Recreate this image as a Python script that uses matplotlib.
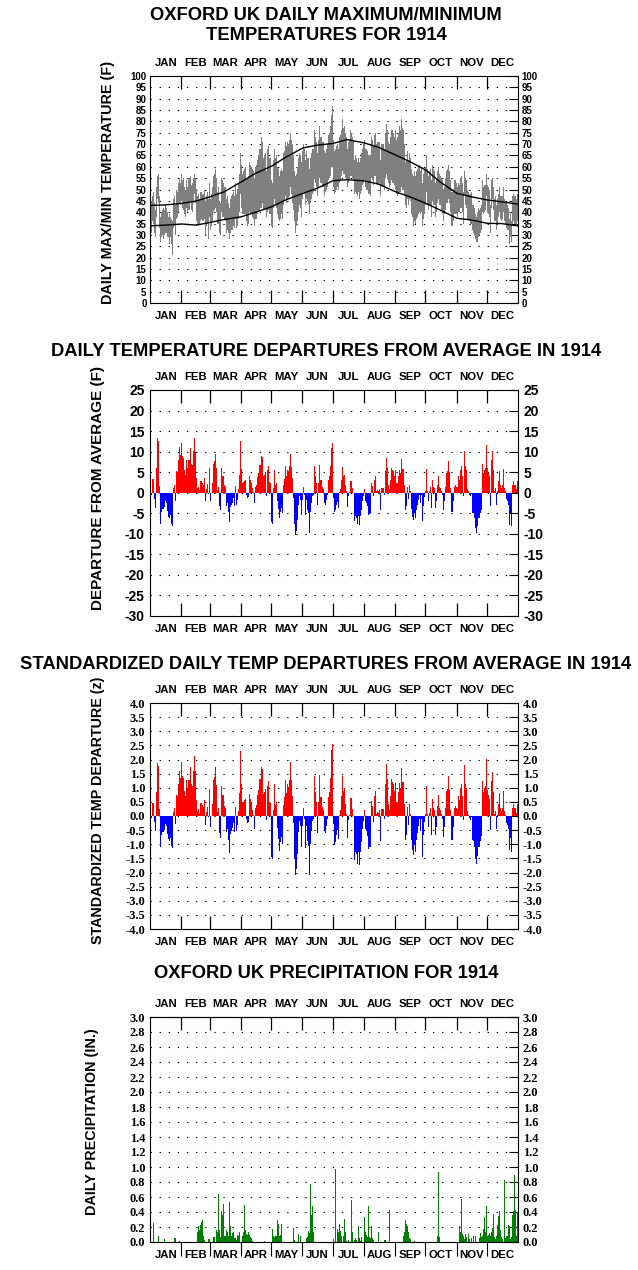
import numpy as np
import matplotlib
matplotlib.use('Agg')
import matplotlib.pyplot as plt
from matplotlib.font_manager import FontProperties

plt.rcParams['font.family'] = ['Liberation Sans', 'DejaVu Sans']
plt.rcParams['font.weight'] = 'bold'

# month layout
months = ['JAN', 'FEB', 'MAR', 'APR', 'MAY', 'JUN', 'JUL', 'AUG', 'SEP', 'OCT', 'NOV', 'DEC']
month_days = [31, 28, 31, 30, 31, 30, 31, 31, 30, 31, 30, 31]

# daily max / min temperature (F), one line per month
tmax = [38,45,47,49,44,41,51,56,57,47,38,40,41,42,41,43,42,40,38,39,38,37,36,46,47,43,50,49,53,55,53,
        57,54,55,51,50,54,51,55,56,52,53,55,57,55,50,47,48,46,49,49,48,48,50,45,47,49,46,53,
        46,48,51,56,57,59,55,49,51,45,44,55,54,53,51,51,46,47,44,42,46,47,48,49,47,53,48,50,53,57,66,
        61,57,58,59,60,55,55,56,62,61,60,59,58,55,60,61,63,65,68,68,73,71,64,65,66,58,68,69,64,64,
        54,53,63,68,64,65,60,59,56,58,59,58,66,67,71,69,71,70,72,75,72,70,65,58,56,57,60,64,66,65,62,
        67,70,68,63,67,64,64,59,64,66,68,68,76,73,71,66,72,78,73,71,71,67,66,68,70,74,75,78,83,87,
        72,67,68,69,70,68,73,74,76,81,77,78,75,73,68,71,72,76,75,73,72,63,65,64,62,64,62,64,66,68,70,
        72,68,68,67,65,65,65,73,72,69,74,75,70,71,71,71,63,70,70,70,68,75,79,76,71,70,73,76,76,75,73,
        76,72,73,75,78,76,81,77,76,70,62,63,67,63,66,64,59,57,56,58,56,58,59,60,61,58,60,53,57,59,
        60,65,59,56,58,59,54,61,59,58,53,54,58,60,57,56,55,54,50,51,55,58,59,61,58,54,49,50,54,54,53,
        51,53,52,55,56,53,49,58,55,54,50,49,48,48,49,43,43,42,39,38,40,42,41,42,43,54,51,52,52,57,
        52,51,50,43,54,55,51,46,47,43,46,48,51,47,47,47,51,46,45,44,43,42,37,40,36,47,48,47,47,46,48]
tmin = [24,31,36,35,31,29,38,46,44,33,27,29,30,28,30,31,31,29,29,26,29,26,21,33,34,30,37,38,40,44,43,
        45,42,41,39,38,42,40,41,45,41,40,44,48,44,36,35,34,35,36,37,36,36,37,30,34,35,28,38,
        32,34,36,40,41,42,40,35,35,31,30,40,38,38,37,36,31,32,31,28,31,32,32,34,33,37,33,34,37,40,48,
        42,39,39,39,39,36,34,35,40,39,39,38,37,34,37,37,39,40,41,42,42,44,41,41,41,38,40,41,39,39,
        34,33,42,46,43,42,39,37,36,37,39,37,43,45,47,44,46,46,47,51,48,44,41,36,31,34,36,40,43,42,38,
        46,49,48,43,46,45,43,39,44,46,48,49,55,53,51,47,51,55,53,51,51,47,49,50,51,54,55,56,60,60,
        51,48,49,50,51,50,53,54,56,58,57,57,55,54,51,53,54,56,56,55,54,48,49,48,47,49,46,48,50,52,53,
        54,51,50,50,48,48,47,55,54,52,56,56,53,52,52,53,47,52,51,51,50,55,57,55,53,51,52,54,53,53,52,
        50,48,47,48,49,49,51,50,50,47,43,42,46,43,46,45,39,38,34,36,35,37,38,39,40,39,40,34,37,39,
        43,49,43,41,43,43,38,45,43,43,38,40,44,46,43,43,41,41,36,39,41,44,44,46,44,40,34,36,39,39,39,
        38,40,40,42,42,40,35,47,43,42,37,37,36,35,35,32,31,30,28,27,27,29,30,31,32,40,39,40,41,47,
        40,39,38,31,42,46,41,36,36,32,35,38,40,37,36,37,40,36,35,33,32,32,26,29,27,35,36,35,35,34,36]

# normal max/min curves (day of year, F)
normal_days = [1, 15, 32, 46, 60, 74, 91, 105, 121, 135, 152, 166, 182, 196, 213, 227, 244, 258, 274, 288, 305, 319, 335, 349, 365]
normal_max = [43.0, 43.2, 43.9, 44.9, 46.8, 49.0, 53.4, 57.1, 60.3, 64.2, 68.3, 69.5, 70.3, 72.0, 70.5, 68.6,
              65.2, 62.3, 58.6, 53.4, 48.3, 46.8, 45.4, 44.6, 43.6]
normal_min = [34.0, 34.3, 34.8, 34.3, 35.5, 36.8, 38.0, 40.0, 42.4, 45.4, 48.3, 50.5, 53.9, 54.3, 53.8, 52.4,
              49.0, 46.8, 43.9, 41.0, 37.3, 36.6, 35.1, 35.0, 34.0]

# daily departure from average (F)
dep = [-8.2,-0.5,3.3,3.3,-1.5,-3.7,6.0,13.2,12.5,1.7,-7.6,-4.8,-4.0,-4.0,-3.5,-2.0,-2.5,-4.5,-5.8,-6.2,-5.5,-7.5,-8.0,1.1,2.0,-2.0,5.2,5.0,8.0,11.1,9.3,
       12.0,8.9,8.5,5.6,4.4,8.0,6.0,8.0,10.9,7.1,6.8,10.1,13.4,10.0,3.6,1.1,1.5,0.6,2.8,2.9,2.4,2.0,3.6,-1.9,0.9,2.1,-0.3,6.0,
       -2.1,0.0,2.4,7.0,7.6,9.5,6.0,0.7,1.5,-3.3,-4.3,5.9,4.1,4.0,2.0,1.5,-3.2,-2.5,-4.6,-7.2,-3.5,-2.9,-2.4,-1.3,-3.2,1.7,-2.9,-1.7,1.0,4.4,12.7,
       5.8,2.4,2.5,2.9,3.2,-0.5,-1.3,-1.1,4.1,3.2,2.4,1.1,0.2,-2.4,1.5,2.0,3.8,4.8,6.8,6.8,9.0,8.7,4.1,4.4,5.0,-0.7,5.6,6.4,2.5,2.4,
       -7.2,-7.6,1.1,5.6,2.0,2.4,-2.1,-4.0,-6.2,-4.6,-3.7,-5.0,2.0,3.4,6.4,4.0,5.6,5.2,6.4,9.5,6.3,3.6,-1.3,-7.6,-10.4,-9.4,-6.7,-2.9,-0.9,-1.7,-5.4,
       -1.7,1.4,-0.5,-5.4,-1.7,-4.1,-5.0,-9.8,-4.6,-2.5,-0.9,-0.5,6.6,4.0,2.4,-2.9,2.4,6.8,3.2,1.5,1.0,-2.5,-2.9,-1.7,-0.5,3.2,4.0,6.4,10.9,12.0,
       -1.3,-4.6,-4.1,-3.0,-2.2,-3.6,0.2,0.9,3.2,6.3,4.0,4.4,1.9,0.3,-3.5,-0.7,0.1,2.8,2.8,1.1,0.0,-7.0,-5.7,-6.1,-7.6,-5.7,-7.8,-5.7,-4.1,-2.1,-0.8,
       0.9,-2.1,-2.5,-3.3,-5.4,-5.1,-5.0,2.4,1.7,-0.9,3.2,4.1,0.3,0.6,0.5,0.9,-4.1,1.1,1.1,1.1,-0.5,5.2,8.5,6.0,2.0,0.9,3.2,6.0,5.6,5.2,4.1,
       5.6,2.4,2.4,4.1,5.6,4.8,8.2,5.8,5.8,2.0,-4.1,-3.2,1.5,-1.5,2.0,0.3,-4.0,-5.8,-6.6,-4.9,-6.1,-4.1,-2.9,-1.7,-0.5,-2.5,-0.5,-7.0,-3.3,-1.0,
       0.3,5.8,0.3,-2.1,0.5,1.5,-3.7,3.2,1.5,1.1,-3.7,-2.1,2.0,4.0,1.5,1.1,0.3,-0.5,-4.1,-2.1,1.5,4.8,5.2,7.6,5.0,1.1,-4.6,-2.1,1.5,2.0,1.5,
       1.5,4.0,3.2,5.6,6.4,4.0,-0.8,10.2,6.4,5.6,1.0,0.3,-0.5,-0.8,-0.3,-4.9,-5.0,-6.2,-8.6,-9.7,-8.0,-6.2,-6.2,-5.0,-4.1,7.0,4.8,5.6,6.0,11.5,
       6.0,4.8,4.0,-3.3,8.0,10.2,5.6,0.5,1.1,-2.9,0.3,2.8,5.2,1.9,1.1,1.9,5.8,1.1,0.3,-1.5,-2.1,-2.9,-7.8,-5.0,-8.2,1.9,2.8,1.9,1.9,0.8,2.8]

# standard deviation of daily temp by month (F), used for z values
sd_month = [7.0, 6.3, 5.5, 5.2, 5.0, 4.7, 4.5, 4.6, 4.8, 5.4, 5.7, 6.5]

# daily precipitation (in.)
precip = [0,0,0,.25,0,0,0,0,.08,0,0,0,0,0,.04,0,0,0,0,0,0,0,0,0,.05,.05,0,0,0,.01,0,
          0,0,0,0,.10,.05,.18,0,.14,.21,.30,.19,.08,.03,0,.13,.22,.16,.23,.27,.29,.08,.03,0,0,0,.04,.04,
          0,0,0,.07,.07,0,.16,.13,.64,.16,.07,.42,.36,.51,.08,.08,.16,.13,.08,.53,.22,.08,.12,.13,.06,.06,.03,.10,.08,.14,0,
          0,.08,.13,.50,.16,.11,.10,.14,.10,.07,.06,.02,0,0,0,0,0,0,0,0,0,0,0,.01,0,0,0,0,0,0,
          0,.18,.08,.07,.08,.08,.30,.24,.08,.09,.24,0,0,0,0,0,0,0,0,0,0,0,.19,.03,0,0,0,.11,0,.08,0,
          0,0,0,0,.06,.07,.15,.12,.78,.36,.48,.13,.07,0,0,0,0,.88,.02,0,.20,.10,0,0,0,0,0,0,0,0,
          .04,0,.98,0,.17,.14,.24,.15,.08,0,.08,.31,.14,.02,0,.03,0,0,.56,.13,0,.03,.06,.03,0,.21,.05,.02,.07,0,0,
          .34,.13,.10,.07,.48,.07,.05,.21,.05,.03,0,0,0,0,.13,0,0,0,0,0,.03,.03,0,0,0,.43,0,0,0,0,0,
          0,0,0,0,0,0,0,0,.08,.13,.29,.24,.21,.13,.06,.04,0,0,0,.02,0,0,0,0,0,0,0,0,0,0,
          0,0,0,0,0,0,0,0,0,0,0,0,.08,.94,.07,0,0,0,0,0,0,.60,0,.63,.32,0,.06,.07,.24,.21,.14,
          .21,.23,.22,.14,.58,.11,.08,.04,.11,.07,0,.11,.04,0,.05,0,.08,0,.08,0,0,0,.05,.12,.07,.08,.17,.33,.13,.48,
          .08,.10,.12,.08,.13,.19,.38,.07,.04,.08,.23,.35,.42,.16,.07,.04,0,.83,.05,.08,.08,.23,.22,.04,.07,.36,.42,.90,.43,.08,.40]

tmax = np.array(tmax, float)
tmin = np.array(tmin, float)
dep = np.array(dep, float)
precip = np.array(precip, float)
zdep = dep / np.repeat(sd_month, month_days)
days = np.arange(1, len(dep) + 1)

starts = np.cumsum([0] + month_days[:-1])
bounds = starts[1:] + 0.5
mids = starts + np.array(month_days) / 2.0 + 0.5

fig = plt.figure(figsize=(6.38, 12.7), dpi=100)
W = 368 / 638.0

def px(y_top, y_bot):
    return [150 / 638.0, 1 - y_bot / 1270.0, W, (y_bot - y_top) / 1270.0]

def style_axis(ax, yticks, ylo, yhi, fmt, tick_font, rpad=2.5, bottom_out=False):
    ax.set_xlim(0.3, 365.5)
    ax.set_ylim(ylo, yhi)
    ax.set_yticks(yticks)
    ax.set_yticklabels([fmt % v for v in yticks], fontproperties=tick_font)
    ax.tick_params(axis='y', which='major', left=False, right=True, direction='in', length=6.5,
                   labelleft=True, labelright=True, pad=rpad)
    ax.yaxis.grid(True, linestyle=(0, (1.2, 7)), color='black', linewidth=0.8)
    ax.set_axisbelow(True)
    ax.set_xticks(bounds)
    ax.set_xticklabels([])
    ax.set_xticks(mids, minor=True)
    ax.set_xticklabels(months, minor=True, fontsize=8.2, fontweight='bold')
    ax.tick_params(axis='x', which='minor', length=0, top=True, bottom=True,
                   labeltop=True, labelbottom=True, pad=6)
    if bottom_out:
        ax.tick_params(axis='x', which='major', direction='out', length=10, bottom=True, top=False,
                       labelbottom=False, labeltop=False)
        sec = ax.secondary_xaxis('top')
        sec.set_xticks(bounds)
        sec.set_xticklabels([])
        sec.tick_params(direction='in', length=9.5, width=0.9)
        sec.spines['top'].set_linewidth(0.8)
    else:
        ax.tick_params(axis='x', which='major', direction='in', length=9.5, width=0.9,
                       top=True, bottom=True, labelbottom=False, labeltop=False)
    for s in ax.spines.values():
        s.set_linewidth(0.8)

sans_small = FontProperties(family=['Liberation Sans', 'DejaVu Sans'], weight='bold', size=7)
sans_big = FontProperties(family=['Liberation Sans', 'DejaVu Sans'], weight='bold', size=10)
serif_small = FontProperties(family=['Liberation Serif', 'DejaVu Serif'], weight='bold', size=9)

# panel 1: daily max/min
ax1 = fig.add_axes(px(76, 303))
ax1.bar(days, tmax - tmin, bottom=tmin, width=1.0, color='#808080', linewidth=0)
ax1.plot(normal_days, normal_max, color='black', lw=1)
ax1.plot(normal_days, normal_min, color='black', lw=1)
style_axis(ax1, np.arange(0, 101, 5), 0, 100, '%d', sans_small)

# panel 2: departures
ax2 = fig.add_axes(px(390, 616))
ax2.bar(days, dep, width=1.0, color=np.where(dep >= 0, '#ff0000', '#0000ff'), linewidth=0)
style_axis(ax2, np.arange(-30, 26, 5), -30, 25, '%d', sans_big, rpad=4)

# panel 3: standardized departures
ax3 = fig.add_axes(px(703, 929))
ax3.bar(days, zdep, width=1.0, color=np.where(zdep >= 0, '#ff0000', '#0000ff'), linewidth=0)
style_axis(ax3, np.arange(-4.0, 4.01, 0.5), -4, 4, '%.1f', serif_small, rpad=3.5)

# panel 4: precipitation
ax4 = fig.add_axes(px(1017, 1242))
ax4.bar(days, precip, width=0.9, color='#008000', linewidth=0)
style_axis(ax4, np.arange(0, 3.01, 0.2), 0, 3, '%.1f', serif_small, rpad=3.5, bottom_out=True)

# titles
cx = 326 / 638.0
tfs = 13.2
fig.text(cx, 1 - 16 / 1270.0, 'OXFORD UK DAILY MAXIMUM/MINIMUM', ha='center', va='center', fontsize=tfs, fontweight='bold')
fig.text(cx, 1 - 36 / 1270.0, 'TEMPERATURES FOR 1914', ha='center', va='center', fontsize=tfs, fontweight='bold')
fig.text(cx, 1 - 352 / 1270.0, 'DAILY TEMPERATURE DEPARTURES FROM AVERAGE IN 1914', ha='center', va='center', fontsize=tfs, fontweight='bold')
fig.text(cx, 1 - 664 / 1270.0, 'STANDARDIZED DAILY TEMP DEPARTURES FROM AVERAGE IN 1914', ha='center', va='center', fontsize=tfs, fontweight='bold')
fig.text(cx, 1 - 973 / 1270.0, 'OXFORD UK PRECIPITATION FOR 1914', ha='center', va='center', fontsize=tfs, fontweight='bold')

# y labels
fig.text(108 / 638.0, 1 - 182 / 1270.0, 'DAILY MAX/MIN TEMPERATURE (F)', rotation=90, ha='center', va='center', fontsize=10.4, fontweight='bold')
fig.text(98 / 638.0, 1 - 488 / 1270.0, 'DEPARTURE FROM AVERAGE (F)', rotation=90, ha='center', va='center', fontsize=11, fontweight='bold')
fig.text(98 / 638.0, 1 - 810 / 1270.0, 'STANDARDIZED TEMP DEPARTURE (z)', rotation=90, ha='center', va='center', fontsize=10.3, fontweight='bold')
fig.text(92 / 638.0, 1 - 1122 / 1270.0, 'DAILY PRECIPITATION (IN.)', rotation=90, ha='center', va='center', fontsize=10.4, fontweight='bold')

fig.savefig('out.png', dpi=100, facecolor='white')
